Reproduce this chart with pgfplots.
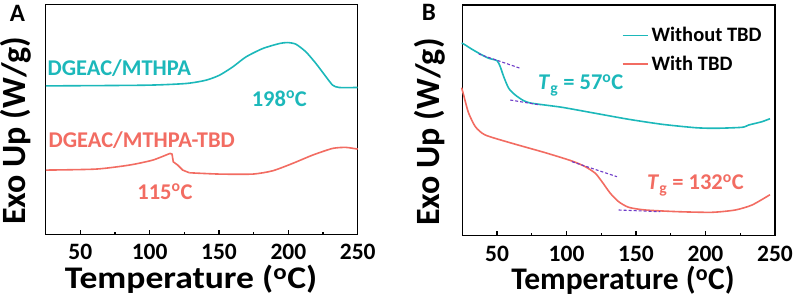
\documentclass[border=0pt]{standalone}
\usepackage{fontspec}
\setmainfont{Carlito}
\usepackage{pgfplots}
\pgfplotsset{compat=1.18}
\definecolor{cy}{RGB}{28,184,186}
\definecolor{sa}{RGB}{242,108,98}
\definecolor{pu}{RGB}{110,60,200}
\pgfplotsset{
 panel/.style={
  scale only axis, width=312bp, height=230bp,
  xmin=25, xmax=250, ymin=0,
  axis line style={line width=1.2bp},
  xtick={50,100,...,250}, minor x tick num=1,
  ytick=\empty,
  xtick pos=bottom, tick align=inside,
  major tick length=4.5bp, minor tick length=2.5bp,
  every tick/.style={line width=1.2bp, black},
  /pgf/number format/assume math mode=true,
  xticklabel style={font=\fontsize{23.5bp}{26bp}\selectfont\bfseries, inner sep=0pt, yshift=-10bp},
  ylabel style={font=\fontsize{34bp}{40bp}\selectfont\bfseries},
  xlabel={Temperature (\textsuperscript{o}C)},
  ylabel={Exo Up (W/g)},
  clip=false,
 },
 curve/.style={line width=1.6bp, smooth, tension=0.4},
 tang/.style={pu, line width=1.1bp, dash pattern=on 3bp off 2bp},
}
\begin{document}
\begin{tikzpicture}
\path[use as bounding box] (0,0) rectangle (796bp,298bp);
% ---------------- Panel A
\begin{axis}[panel, at={(45.7bp,63.7bp)}, anchor=south west, ymax=230.3,
  xlabel style={at={(axis description cs:0.466,-0.236)}, anchor=base, inner sep=0pt,
    font=\fontsize{31.5bp}{38bp}\selectfont\bfseries, xscale=1.13},
  ylabel style={at={(axis description cs:-0.095,0.449)}, anchor=center}]
\addplot[cy, curve] coordinates {
(25.2,148.6) (97.3,149.3) (126.2,151) (140.6,154.3) (150.3,159.3) (159.9,167.6)
(169.4,177.6) (181.5,186) (193.5,191) (199.5,192) (205.5,190.3) (212.7,182.6)
(219.9,171) (227.2,157.6) (232.0,149.3) (236.7,147) (250,147)};
\addplot[sa, curve] coordinates {
(25.2,64.3) (61.3,65.3) (85.3,69.3) (102.2,74.3) (114.6,81)};
\addplot[sa, line width=1.6bp] coordinates {
(114.6,81) (116.1,80.3) (117.0,72.6) (120.2,69.3) (123.8,64.3) (128.6,61.6)};
\addplot[sa, curve] coordinates {
(128.6,61.6) (150.2,60.3) (174.3,60.3) (188.7,63.6) (203.1,71) (217.5,79.3)
(231.9,86) (241.5,87) (250,85.3)};
\node[cy, font=\fontsize{22.5bp}{26bp}\selectfont\bfseries] at (axis cs:78.1,166.8) {DGEAC/MTHPA};
\node[cy, font=\fontsize{22.5bp}{26bp}\selectfont\bfseries] at (axis cs:193.5,136) {198\textsuperscript{o}C};
\node[sa, font=\fontsize{22.5bp}{26bp}\selectfont\bfseries] at (axis cs:94.3,94.3) {DGEAC/MTHPA-TBD};
\node[sa, font=\fontsize{22.5bp}{26bp}\selectfont\bfseries] at (axis cs:111,42.6) {115\textsuperscript{o}C};
\end{axis}
% ---------------- Panel B
\begin{axis}[panel, at={(462.3bp,62.3bp)}, anchor=south west, width=312.7bp, height=230.7bp, ymax=230.7,
  xlabel style={at={(axis description cs:0.514,-0.232)}, anchor=base, inner sep=0pt,
    font=\fontsize{31.5bp}{38bp}\selectfont\bfseries},
  ylabel style={at={(axis description cs:-0.103,0.449)}, anchor=center},
  legend style={at={(axis cs:139.7,210)}, anchor=north west, draw=none, fill=none,
    font=\fontsize{20.5bp}{24bp}\selectfont\bfseries, inner sep=0pt, row sep=10bp,
    nodes={inner xsep=3bp, inner ysep=1.5bp}},
  legend cell align=left,
  legend image code/.code={\draw[#1, line width=1.6bp] (0bp,0bp) -- (25bp,0bp);}]
\addplot[cy, curve] coordinates {
(24.5,192.5) (26.0,191.7) (32.0,186.4) (39.2,180.7) (44.0,177.4) (50.0,175) (52.3,169)
(54.8,159) (58.4,147.4) (63.1,140.7) (69.2,135) (75.2,132.4) (96.7,128.4) (120.7,122.4)
(144.7,116.4) (168.7,111.4) (192.7,108) (207.0,107.4) (226.3,108.4) (231.1,110.7)
(240.6,114) (246.4,117)};
\addlegendentry{Without TBD}
\addplot[sa, curve] coordinates {
(24.5,148) (26.0,140.5) (27.2,134) (29.6,122.4) (34.4,109) (41.5,100.7) (60.8,92.4)
(84.7,83) (103.9,74.7) (113.5,69) (120.7,62.4) (125.5,54) (131.5,42.4) (137.5,34)
(144.7,28.4) (156.7,25.7) (180.7,24) (204.7,23.4) (221.4,25.7) (233.5,30.7) (246.4,41)};
\addlegendentry{With TBD}
\addplot[tang, forget plot] coordinates {(36.8,181.7) (66.7,167.4)};
\addplot[tang, forget plot] coordinates {(59.5,135.7) (81.1,130.7)};
\addplot[tang, forget plot] coordinates {(103.9,74) (136.3,59)};
\addplot[tang, forget plot] coordinates {(137.5,25.7) (167.5,24)};
\node[cy, anchor=base west, font=\fontsize{22.5bp}{26bp}\selectfont\bfseries] at (axis cs:77.1,145.7) {\textit{T}\textsubscript{g} = 57\textsuperscript{o}C};
\node[sa, anchor=base west, font=\fontsize{22.5bp}{26bp}\selectfont\bfseries] at (axis cs:155.5,45.7) {\textit{T}\textsubscript{g} = 132\textsuperscript{o}C};
\end{axis}
\node[font=\fontsize{25bp}{30bp}\selectfont\bfseries] at (17.5bp,285bp) {A};
\node[font=\fontsize{25bp}{30bp}\selectfont\bfseries] at (429bp,285.5bp) {B};
\end{tikzpicture}
\end{document}
